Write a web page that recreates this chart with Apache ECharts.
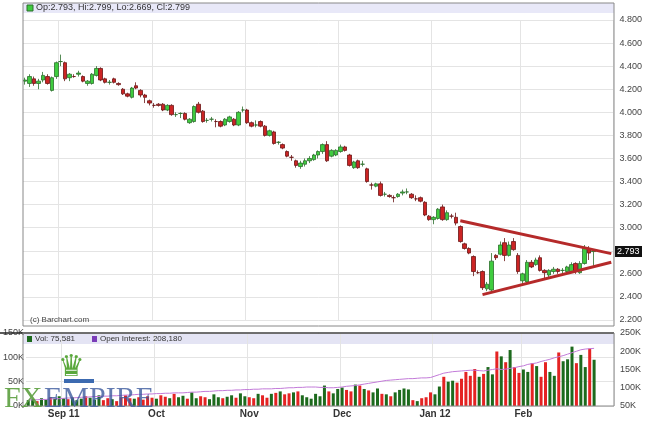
<!DOCTYPE html>
<html><head><meta charset="utf-8">
<script src="https://cdn.jsdelivr.net/npm/echarts@6/dist/echarts.min.js"></script>
<style>html,body{margin:0;padding:0;background:#fff}#c{width:645px;height:427px}</style>
</head><body><div id="c"></div>
<script>
// [open, close, low, high]
const ohlc = [
[4.27,4.28,4.24,4.30],
[4.25,4.31,4.22,4.33],[4.29,4.25,4.23,4.31],[4.25,4.27,4.20,4.29],[4.28,4.32,4.26,4.35],[4.31,4.25,4.24,4.33],
[4.19,4.30,4.18,4.31],[4.31,4.43,4.29,4.44],[4.44,4.44,4.40,4.50],[4.43,4.29,4.27,4.44],[4.30,4.33,4.27,4.34],
[4.31,4.31,4.30,4.33],[4.33,4.34,4.31,4.36],[4.31,4.27,4.26,4.32],[4.25,4.27,4.23,4.28],[4.25,4.33,4.24,4.34],
[4.32,4.38,4.31,4.40],[4.38,4.28,4.27,4.39],[4.29,4.26,4.25,4.30],[4.26,4.26,4.24,4.28],[4.29,4.26,4.25,4.30],
[4.25,4.24,4.23,4.26],[4.20,4.16,4.15,4.21],[4.16,4.14,4.13,4.17],[4.13,4.21,4.12,4.22],[4.23,4.21,4.20,4.26],
[4.19,4.15,4.13,4.20],[4.15,4.13,4.08,4.16],[4.10,4.08,4.06,4.11],[4.06,4.06,4.04,4.08],[4.07,4.06,4.05,4.08],
[4.07,4.02,4.01,4.08],[4.02,4.06,4.01,4.07],[4.06,3.98,3.97,4.07],[3.98,3.98,3.96,4.00],[3.99,3.99,3.95,4.00],
[3.99,3.94,3.93,4.00],[3.91,3.94,3.90,3.95],[3.92,4.05,3.91,4.06],[4.07,4.00,3.99,4.09],[4.01,3.92,3.91,4.02],
[3.93,3.93,3.91,3.95],[3.94,3.94,3.92,3.96],[3.92,3.92,3.87,3.94],[3.92,3.88,3.87,3.93],[3.89,3.94,3.88,3.95],
[3.92,3.96,3.91,3.97],[3.94,3.89,3.88,3.95],[3.89,4.00,3.88,4.01],[4.02,4.02,4.00,4.05],[4.02,3.91,3.90,4.03],
[3.91,3.88,3.87,3.92],[3.89,3.89,3.87,3.93],[3.92,3.88,3.87,3.93],[3.88,3.80,3.79,3.89],[3.80,3.84,3.79,3.85],
[3.83,3.73,3.72,3.84],[3.74,3.74,3.72,3.75],[3.72,3.69,3.68,3.73],[3.66,3.62,3.61,3.67],[3.61,3.61,3.58,3.63],
[3.58,3.54,3.52,3.59],[3.53,3.56,3.51,3.58],[3.55,3.58,3.53,3.60],[3.58,3.60,3.56,3.62],[3.59,3.63,3.58,3.64],
[3.63,3.66,3.60,3.67],[3.66,3.72,3.64,3.73],[3.72,3.58,3.57,3.75],[3.62,3.67,3.61,3.68],[3.63,3.67,3.62,3.68],
[3.66,3.70,3.65,3.72],[3.70,3.67,3.66,3.71],[3.63,3.54,3.53,3.64],[3.52,3.57,3.51,3.58],[3.58,3.52,3.51,3.59],
[3.55,3.55,3.53,3.58],[3.51,3.40,3.39,3.52],[3.37,3.37,3.33,3.39],[3.36,3.38,3.35,3.39],[3.38,3.28,3.27,3.40],
[3.29,3.29,3.27,3.31],[3.28,3.27,3.26,3.29],[3.26,3.26,3.22,3.28],[3.27,3.29,3.26,3.30],[3.30,3.31,3.28,3.33],
[3.31,3.31,3.29,3.34],[3.29,3.26,3.25,3.30],[3.25,3.25,3.23,3.28],[3.26,3.23,3.22,3.27],[3.22,3.11,3.10,3.23],
[3.10,3.07,3.06,3.11],[3.07,3.09,3.03,3.10],[3.08,3.16,3.07,3.17],[3.18,3.07,3.06,3.20],[3.07,3.13,3.06,3.15],
[3.10,3.10,3.08,3.12],[3.09,3.04,3.02,3.13],[3.01,2.88,2.87,3.02],[2.86,2.82,2.81,2.87],[2.82,2.78,2.77,2.83],
[2.75,2.62,2.58,2.76],[2.61,2.61,2.60,2.63],[2.62,2.48,2.46,2.63],[2.47,2.51,2.45,2.53],[2.46,2.71,2.45,2.78],
[2.76,2.74,2.72,2.77],[2.77,2.85,2.76,2.88],[2.87,2.76,2.71,2.91],[2.76,2.85,2.75,2.88],[2.88,2.81,2.80,2.91],
[2.76,2.62,2.60,2.78],[2.54,2.60,2.51,2.61],[2.53,2.70,2.52,2.72],[2.70,2.66,2.65,2.72],[2.68,2.72,2.67,2.74],
[2.74,2.63,2.62,2.76],[2.63,2.61,2.56,2.64],[2.59,2.63,2.57,2.64],[2.62,2.64,2.60,2.66],[2.64,2.62,2.60,2.65],
[2.63,2.63,2.60,2.65],[2.62,2.66,2.61,2.67],[2.62,2.68,2.61,2.70],[2.69,2.62,2.60,2.70],[2.61,2.69,2.60,2.71],
[2.69,2.82,2.68,2.85],[2.82,2.78,2.72,2.84],[2.793,2.799,2.669,2.80]
];
// volume (K)
const volume = [
12,14,10,16,13,18,15,20,16,14,18,12,15,20,17,13,22,12,16,14,10,18,22,16,15,18,13,20,17,
15,22,19,16,25,18,21,15,28,16,20,18,14,24,18,16,19,22,17,26,20,18,16,25,22,17,
25,27,30,24,26,28,30,22,18,15,25,20,42,30,26,35,38,33,30,44,42,35,32,28,36,25,24,20,28,33,
36,34,12,10,16,18,28,24,40,60,50,52,48,56,70,62,76,60,66,80,65,112,102,90,115,80,68,
75,70,88,82,60,90,70,62,110,92,96,122,88,105,80,118,95,76
];
// open interest (K)
const openInterest = [
66,67,67,68,68,69,70,70,71,72,72,73,74,74,75,76,76,77,77,78,78,79,80,80,81,82,82,83,
83,84,84,85,85,86,86,86,87,88,88,89,90,90,91,92,92,93,93,94,94,95,95,96,96,97,97,97,98,98,
99,100,100,101,101,102,102,102,101,101,100,100,101,102,104,105,106,108,110,112,114,116,118,120,121,122,123,124,125,125,
126,127,127,128,132,136,140,142,144,145,146,147,148,148,147,146,148,150,152,150,151,153,155,158,
160,164,166,168,172,175,178,182,185,188,192,196,200,204,206,207,208
];
const monthTicks = {8:'Sep 11',29:'Oct',50:'Nov',71:'Dec',92:'Jan 12',112:'Feb'};
const upperTrend = [[98,3.06],[132,2.775]];
const lowerTrend = [[103,2.42],[132,2.70]];
const pad = 4;

const n = ohlc.length;
const cats = [];
for (let i = 0; i < n + pad; i++) cats.push(String(i));
const isTick = (i) => monthTicks[i] !== undefined;

const candleData = ohlc.map(d => [d[0], d[1], d[2], d[3]]);
const volData = volume.slice(0, n).map((v, i) => {
  const d = ohlc[i];
  return {value: v, itemStyle: {color: d[1] >= d[0] ? '#1d6a1d' : '#e42323'}};
});
const oiData = openInterest.slice(0, n).map((v, i) => [String(i), v]);
const up = upperTrend.map(p => [String(p[0]), p[1]]);
const lo = lowerTrend.map(p => [String(p[0]), p[1]]);

const chart = echarts.init(document.getElementById('c'));
const font = 'Arial, Liberation Sans, sans-serif';
const xBase = (gi, showLabel) => ({
  type: 'category', data: cats, gridIndex: gi, boundaryGap: true,
  axisLine: {show: false}, axisTick: {show: false},
  axisLabel: {show: showLabel, interval: (i) => isTick(i), formatter: (v, i) => monthTicks[i] || '',
    fontSize: 10, fontWeight: 'bold', color: '#333', fontFamily: font, margin: 3},
  splitLine: {show: true, interval: (i) => isTick(i), lineStyle: {color: '#e4e4e4'}}
});
chart.setOption({
  animation: false,
  grid: [
    {left: 23, right: 31, top: 20, bottom: 107},
    {left: 23, right: 31, top: 333, bottom: 21}
  ],
  xAxis: [xBase(0, false), xBase(1, true)],
  yAxis: [
    {type: 'value', gridIndex: 0, position: 'right', min: 2.2, max: 4.8, interval: 0.2,
     axisLine: {show: false}, axisTick: {show: false},
     axisLabel: {fontSize: 9, color: '#444', fontFamily: font, margin: 6, formatter: v => v.toFixed(3)},
     splitLine: {lineStyle: {color: '#e4e4e4'}}},
    {type: 'value', gridIndex: 1, position: 'left', min: 0, max: 150, interval: 50,
     axisLine: {show: false}, axisTick: {show: false},
     axisLabel: {fontSize: 9, color: '#444', fontFamily: font, margin: 2, formatter: v => v + 'K'},
     splitLine: {lineStyle: {color: '#e4e4e4'}}},
    {type: 'value', gridIndex: 1, position: 'right', min: 50, max: 250, interval: 50,
     axisLine: {show: false}, axisTick: {show: false},
     axisLabel: {fontSize: 9, color: '#444', fontFamily: font, margin: 6, formatter: v => v + 'K'},
     splitLine: {show: false}}
  ],
  series: [
    {type: 'candlestick', xAxisIndex: 0, yAxisIndex: 0, data: candleData, barWidth: 4,
     itemStyle: {color: '#3fcc3f', color0: '#cc2424', borderColor: '#2c6e2c', borderColor0: '#6a1515', borderWidth: 0.8}},
    {type: 'line', xAxisIndex: 0, yAxisIndex: 0, data: up, symbol: 'none',
     lineStyle: {color: '#b52a2a', width: 3}},
    {type: 'line', xAxisIndex: 0, yAxisIndex: 0, data: lo, symbol: 'none',
     lineStyle: {color: '#b52a2a', width: 3}},
    {type: 'bar', xAxisIndex: 1, yAxisIndex: 1, data: volData, barWidth: 3},
    {type: 'line', xAxisIndex: 1, yAxisIndex: 2, data: oiData, symbol: 'none',
     lineStyle: {color: '#c27ad8', width: 1}}
  ],
  graphic: [
    {type: 'rect', shape: {x: 23, y: 3, width: 591, height: 10}, style: {fill: '#e8e8f8'}, z: -1},
    {type: 'rect', shape: {x: 23, y: 3, width: 591, height: 323}, style: {fill: 'none', stroke: '#888', lineWidth: 1}, z: 10},
    {type: 'rect', shape: {x: 27, y: 5, width: 6, height: 6}, style: {fill: '#3fcc3f', stroke: '#2c6e2c'}, z: 11},
    {type: 'text', x: 36, y: 3, style: {text: 'Op:2.793, Hi:2.799, Lo:2.669, Cl:2.799', fontSize: 9, fill: '#333', fontFamily: font}, z: 11},
    {type: 'text', x: 30, y: 316, style: {text: '(c) Barchart.com', fontSize: 8, fill: '#444', fontFamily: font}, z: 11},
    {type: 'rect', shape: {x: 615, y: 246, width: 27, height: 11}, style: {fill: '#111'}, z: 11},
    {type: 'text', x: 617, y: 247, style: {text: '2.793', fontSize: 9, fill: '#fff', fontFamily: font}, z: 12},
    {type: 'rect', shape: {x: 23, y: 333, width: 591, height: 11}, style: {fill: '#e4e4f4'}, z: -1},
    {type: 'line', shape: {x1: 0, y1: 333, x2: 614, y2: 333}, style: {stroke: '#222', lineWidth: 1.5}, z: 10},
    {type: 'rect', shape: {x: 23, y: 333, width: 591, height: 73}, style: {fill: 'none', stroke: '#888', lineWidth: 1}, z: 10},
    {type: 'rect', shape: {x: 27, y: 336, width: 5, height: 6}, style: {fill: '#1d6a1d'}, z: 11},
    {type: 'text', x: 35, y: 335, style: {text: 'Vol: 75,581', fontSize: 8, fill: '#333', fontFamily: font}, z: 11},
    {type: 'rect', shape: {x: 92, y: 336, width: 5, height: 6}, style: {fill: '#7a3cb8'}, z: 11},
    {type: 'text', x: 100, y: 335, style: {text: 'Open Interest: 208,180', fontSize: 8, fill: '#333', fontFamily: font}, z: 11},
    {type: 'text', x: 58, y: 353, style: {text: '♛', fontSize: 30, fill: '#5aa83c', fontFamily: 'DejaVu Sans'}, z: 12},
    {type: 'rect', shape: {x: 64, y: 379, width: 30, height: 4}, style: {fill: '#3c6ab0'}, z: 13},
    {type: 'text', x: 4, y: 384, style: {text: 'FX', fontSize: 30, fill: '#5b9e3e', fontFamily: 'Liberation Serif', opacity: 0.9}, z: 12},
    {type: 'text', x: 44, y: 384, style: {text: 'EMPIRE', fontSize: 30, fill: '#3c5a9e', fontFamily: 'Liberation Serif', opacity: 0.8}, z: 12}
  ]
});
</script></body></html>
